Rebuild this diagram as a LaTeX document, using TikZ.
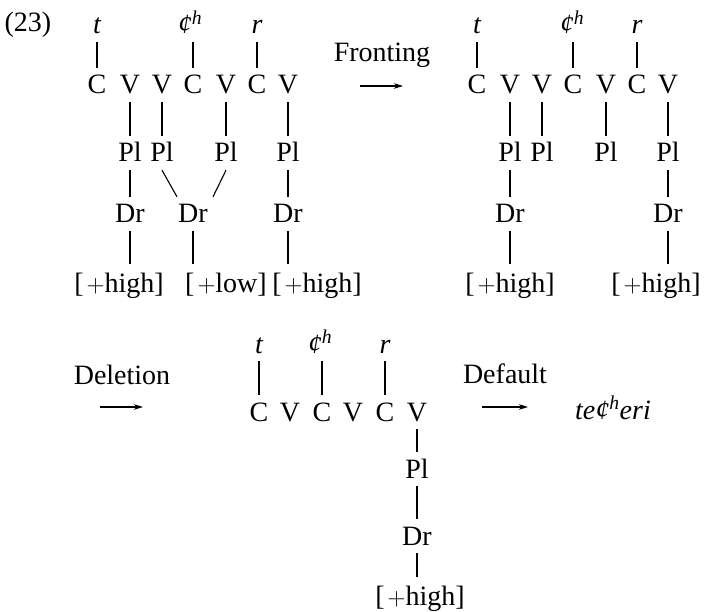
\documentclass[tikz,border=0pt]{standalone}
\usepackage{fontspec}
\setmainfont{Liberation Serif}
\usetikzlibrary{arrows.meta,calc}
\newcommand{\chsym}{¢\textsuperscript{h}}
\newcommand{\feat}[1]{[\kern3pt$+$#1]}
\begin{document}
\begin{tikzpicture}[x=1pt,y=-1pt,
  every node/.style={font=\fontsize{28}{33}\selectfont, inner sep=0pt},
  seg/.style={anchor=base, text height=18pt, text depth=0pt, inner ysep=8pt},
  segit/.style={seg, font=\fontsize{28}{33}\selectfont\itshape},
  featbox/.style={anchor=base, text height=19pt, text depth=0pt, inner ysep=9pt},
  lbl/.style={anchor=base},
  ln/.style={line width=1.1pt},
  arr/.style={line width=1.2pt, -{Stealth[length=9pt,width=5.5pt,inset=2.5pt]}}]
\useasboundingbox (0,0) rectangle (706,612);

% ---------- label ----------
\node[lbl] (num) at (28,32) {(23)};

% ---------- top-left structure ----------
\node[segit] (Lt)  at (97,34)  {t};
\node[segit] (Lch) at (190,34) {\chsym};
\node[segit] (Lr)  at (257,34) {r};
\node[seg] (LC1) at (97,94)  {C};
\node[seg] (LV1) at (130,94) {V};
\node[seg] (LV2) at (162,94) {V};
\node[seg] (LC2) at (193,94) {C};
\node[seg] (LV3) at (226,94) {V};
\node[seg] (LC3) at (257,94) {C};
\node[seg] (LV4) at (288,94) {V};
\node[seg] (LP1) at (130,162) {Pl};
\node[seg] (LP2) at (162,162) {Pl};
\node[seg] (LP3) at (226,162) {Pl};
\node[seg] (LP4) at (288,162) {Pl};
\node[seg] (LD1) at (130,223) {Dr};
\node[seg] (LD2) at (193,223) {Dr};
\node[seg] (LD3) at (288,223) {Dr};
\node[featbox] (LF1) at (119,292) {\feat{high}};
\node[featbox] (LF2) at (226,292) {\feat{low}};
\node[featbox] (LF3) at (317,292) {\feat{high}};

\draw[ln] (Lt) -- (LC1);
\draw[ln] (LC2.north |- Lch.south) -- (LC2.north);
\draw[ln] (Lr) -- (LC3);
\draw[ln] (LV1) -- (LP1);
\draw[ln] (LV2) -- (LP2);
\draw[ln] (LV3) -- (LP3);
\draw[ln] (LV4) -- (LP4);
\draw[ln] (LP1) -- (LD1);
\draw[ln] (LP4) -- (LD3);
\draw[ln] (LP2.south) -- ($(LD2.north)+(-16,0)$);
\draw[ln] (LP3.south) -- ($(LD2.north)+(20,0)$);
\draw[ln] (LD1.south) -- (LD1.south |- LF1.north);
\draw[ln] (LD2.south) -- (LD2.south |- LF2.north);
\draw[ln] (LD3.south) -- (LD3.south |- LF3.north);

% ---------- Fronting ----------
\node[lbl] (fr) at (382,62) {Fronting};
\coordinate (fa1) at (360,86);
\coordinate (fa2) at (403,86);
\draw[arr] (fa1) -- (fa2);

% ---------- top-right structure ----------
\node[segit] (Rt)  at (477,34) {t};
\node[segit] (Rch) at (572,34) {\chsym};
\node[segit] (Rr)  at (637,34) {r};
\node[seg] (RC1) at (477,94) {C};
\node[seg] (RV1) at (510,94) {V};
\node[seg] (RV2) at (542,94) {V};
\node[seg] (RC2) at (573,94) {C};
\node[seg] (RV3) at (606,94) {V};
\node[seg] (RC3) at (637,94) {C};
\node[seg] (RV4) at (668,94) {V};
\node[seg] (RP1) at (510,162) {Pl};
\node[seg] (RP2) at (542,162) {Pl};
\node[seg] (RP3) at (606,162) {Pl};
\node[seg] (RP4) at (668,162) {Pl};
\node[seg] (RD1) at (510,223) {Dr};
\node[seg] (RD2) at (668,223) {Dr};
\node[featbox] (RF1) at (510,292) {\feat{high}};
\node[featbox] (RF2) at (656,292) {\feat{high}};

\draw[ln] (Rt) -- (RC1);
\draw[ln] (RC2.north |- Rch.south) -- (RC2.north);
\draw[ln] (Rr) -- (RC3);
\draw[ln] (RV1) -- (RP1);
\draw[ln] (RV2) -- (RP2);
\draw[ln] (RV3) -- (RP3);
\draw[ln] (RV4) -- (RP4);
\draw[ln] (RP1) -- (RD1);
\draw[ln] (RP4) -- (RD2);
\draw[ln] (RD1.south) -- (RD1.south |- RF1.north);
\draw[ln] (RD2.south) -- (RD2.south |- RF2.north);

% ---------- Deletion ----------
\node[lbl] (del) at (122,384) {Deletion};
\coordinate (da1) at (100,407);
\coordinate (da2) at (143,407);
\draw[arr] (da1) -- (da2);

% ---------- bottom structure ----------
\node[segit] (Bt)  at (259,353) {t};
\node[segit] (Bch) at (320,353) {\chsym};
\node[segit] (Br)  at (385,353) {r};
\node[seg] (BC1) at (259,421) {C};
\node[seg] (BV1) at (290,421) {V};
\node[seg] (BC2) at (322,421) {C};
\node[seg] (BV2) at (353,421) {V};
\node[seg] (BC3) at (385,421) {C};
\node[seg] (BV3) at (417,421) {V};
\node[seg] (BP)  at (417,478) {Pl};
\node[seg] (BD)  at (417,545) {Dr};
\node[featbox] (BF) at (420,605) {\feat{high}};

\draw[ln] (Bt) -- (BC1);
\draw[ln] (BC2.north |- Bch.south) -- (BC2.north);
\draw[ln] (Br) -- (BC3);
\draw[ln] (BV3) -- (BP);
\draw[ln] (BP) -- (BD);
\draw[ln] (BD.south) -- (BD.south |- BF.north);

% ---------- Default ----------
\node[lbl] (dflt) at (505,383) {Default};
\coordinate (ea1) at (482,407);
\coordinate (ea2) at (528,407);
\draw[arr] (ea1) -- (ea2);
\node[anchor=base west, font=\fontsize{28}{33}\selectfont\itshape] (res) at (575,419) {te\chsym eri};
\end{tikzpicture}
\end{document}
